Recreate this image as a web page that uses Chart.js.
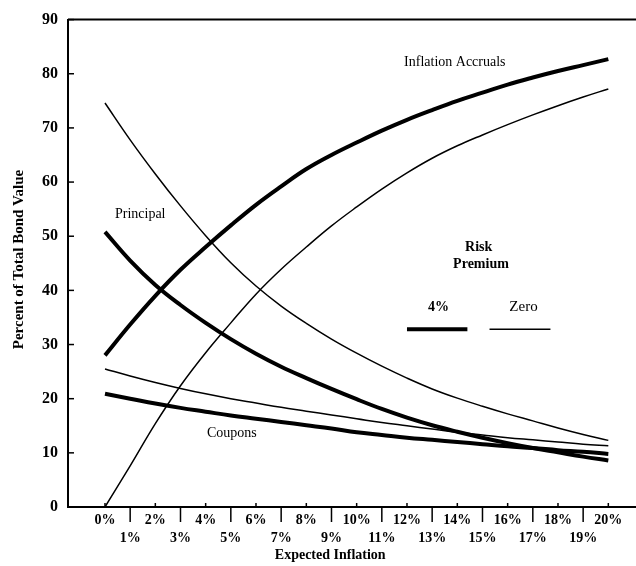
<!DOCTYPE html>
<html>
<head>
<meta charset="utf-8">
<script src="https://cdn.jsdelivr.net/npm/chart.js@4"></script>
<style>
  html, body { margin: 0; padding: 0; background: #fff; }
  #wrap { width: 636px; height: 566px; }
</style>
</head>
<body>
<div id="wrap"><canvas id="c" width="636" height="566"></canvas></div>
<script>
// Expected inflation (%)
const inflationPct = [0,1,2,3,4,5,6,7,8,9,10,11,12,13,14,15,16,17,18,19,20];

// Percent of total bond value
const accrualsRisk4  = [28.0,33.7,39.0,43.8,48.0,52.0,55.8,59.2,62.4,65.0,67.3,69.5,71.5,73.3,75.0,76.5,78.0,79.3,80.5,81.6,82.7];
const accrualsZero   = [0.0,7.6,15.4,22.4,28.5,34.0,39.3,43.9,48.0,51.9,55.4,58.7,61.7,64.4,66.7,68.7,70.6,72.4,74.1,75.7,77.2];
const principalRisk4 = [50.8,45.5,41.0,37.3,34.0,31.0,28.3,25.9,23.8,21.8,19.9,18.1,16.5,15.1,13.9,12.8,11.8,10.9,10.1,9.3,8.6];
const principalZero  = [74.6,67.8,61.5,55.6,50.1,45.1,40.8,37.1,33.9,31.0,28.4,26.0,23.8,21.8,20.1,18.6,17.2,15.9,14.6,13.4,12.3];
const couponsRisk4   = [20.9,20.0,19.1,18.3,17.6,16.9,16.3,15.7,15.1,14.5,13.8,13.3,12.8,12.4,12.0,11.6,11.2,10.9,10.5,10.2,9.8];
const couponsZero    = [25.5,24.2,23.0,21.9,20.9,20.0,19.2,18.4,17.7,17.0,16.3,15.6,15.0,14.4,13.8,13.3,12.8,12.4,12.0,11.6,11.3];

const yTicks = [0,10,20,30,40,50,60,70,80,90];

const SERIF = '"Liberation Serif", "DejaVu Serif", serif';

function pts(arr) { return inflationPct.map((x, i) => ({ x: x, y: arr[i] })); }
function ds(label, arr, thick) {
  return {
    label: label,
    data: pts(arr),
    borderColor: '#000',
    borderWidth: thick ? 4 : 1.5,
    pointRadius: 0,
    fill: false,
    tension: 0.4
  };
}

const annotations = [
  { text: 'Inflation Accruals', x: 13.9, y: 82.1, weight: 'normal', size: 14 },
  { text: 'Principal', x: 1.4, y: 54.0, weight: 'normal', size: 14 },
  { text: 'Coupons', x: 5.04, y: 13.6, weight: 'normal', size: 14 },
  { text: 'Risk', x: 14.85, y: 47.9, weight: 'bold', size: 14 },
  { text: 'Premium', x: 14.94, y: 44.8, weight: 'bold', size: 14 },
  { text: '4%', x: 13.25, y: 36.9, weight: 'bold', size: 14 },
  { text: 'Zero', x: 16.63, y: 36.9, weight: 'normal', size: 15 }
];

const decorPlugin = {
  id: 'decor',
  afterDraw(chart) {
    const ctx = chart.ctx;
    const xs = chart.scales.x, ys = chart.scales.y;
    const area = chart.chartArea;
    ctx.save();
    ctx.strokeStyle = '#000';
    ctx.fillStyle = '#000';
    // top frame line
    ctx.lineWidth = 2;
    ctx.beginPath();
    ctx.moveTo(area.left, area.top);
    ctx.lineTo(area.right, area.top);
    ctx.stroke();
    // y ticks (inward)
    ctx.lineWidth = 1.5;
    yTicks.forEach(v => {
      const py = ys.getPixelForValue(v);
      ctx.beginPath();
      ctx.moveTo(area.left, py);
      ctx.lineTo(area.left + 6, py);
      ctx.stroke();
    });
    // x ticks
    inflationPct.forEach(v => {
      const px = xs.getPixelForValue(v);
      ctx.beginPath();
      if (v % 2 === 1) {
        ctx.moveTo(px, area.bottom);
        ctx.lineTo(px, area.bottom + 15);
      } else {
        ctx.moveTo(px, area.bottom);
        ctx.lineTo(px, area.bottom - 4);
      }
      ctx.stroke();
    });
    // annotations
    ctx.textAlign = 'center';
    ctx.textBaseline = 'middle';
    annotations.forEach(a => {
      ctx.font = a.weight + ' ' + a.size + 'px ' + SERIF;
      ctx.fillText(a.text, xs.getPixelForValue(a.x), ys.getPixelForValue(a.y));
    });
    // legend sample lines
    const ly = ys.getPixelForValue(32.8);
    ctx.lineWidth = 4;
    ctx.beginPath();
    ctx.moveTo(xs.getPixelForValue(12.0), ly);
    ctx.lineTo(xs.getPixelForValue(14.4), ly);
    ctx.stroke();
    ctx.lineWidth = 1.5;
    ctx.beginPath();
    ctx.moveTo(xs.getPixelForValue(15.28), ly);
    ctx.lineTo(xs.getPixelForValue(17.7), ly);
    ctx.stroke();
    // axis titles
    ctx.font = 'bold 14px ' + SERIF;
    ctx.fillText('Expected Inflation', xs.getPixelForValue(8.95), 555);
    ctx.save();
    ctx.translate(19, ys.getPixelForValue(45.7));
    ctx.rotate(-Math.PI / 2);
    ctx.font = 'bold 15px ' + SERIF;
    ctx.fillText('Percent of Total Bond Value', 0, 0);
    ctx.restore();
    ctx.restore();
  }
};

new Chart(document.getElementById('c'), {
  type: 'line',
  data: {
    datasets: [
      ds('Inflation Accruals (4%)', accrualsRisk4, true),
      ds('Inflation Accruals (Zero)', accrualsZero, false),
      ds('Principal (4%)', principalRisk4, true),
      ds('Principal (Zero)', principalZero, false),
      ds('Coupons (4%)', couponsRisk4, true),
      ds('Coupons (Zero)', couponsZero, false)
    ]
  },
  options: {
    responsive: false,
    animation: false,
    devicePixelRatio: 1,
    layout: { padding: { top: 15, right: 0, left: 0, bottom: 0 } },
    plugins: { legend: { display: false }, tooltip: { enabled: false } },
    scales: {
      x: {
        type: 'linear',
        min: -1.47,
        max: 21.1,
        afterBuildTicks(scale) { scale.ticks = inflationPct.map(v => ({ value: v })); },
        afterFit(scale) { scale.height = 59; },
        grid: { display: false, drawTicks: false },
        border: { display: true, color: '#000', width: 2 },
        ticks: {
          autoSkip: false,
          maxRotation: 0,
          minRotation: 0,
          padding: 4,
          color: '#000',
          font: { family: SERIF, size: 14, weight: 'bold', lineHeight: 1.3 },
          callback(v) { return v % 2 === 0 ? [v + '%', ''] : ['', v + '%']; }
        }
      },
      y: {
        type: 'linear',
        min: 0,
        max: 90,
        afterBuildTicks(scale) { scale.ticks = yTicks.map(v => ({ value: v })); },
        afterFit(scale) { scale.width = 68; },
        grid: { display: false, drawTicks: false },
        border: { display: true, color: '#000', width: 2 },
        ticks: {
          padding: 10,
          color: '#000',
          font: { family: SERIF, size: 16, weight: 'bold' }
        }
      }
    }
  },
  plugins: [decorPlugin]
});
</script>
</body>
</html>
